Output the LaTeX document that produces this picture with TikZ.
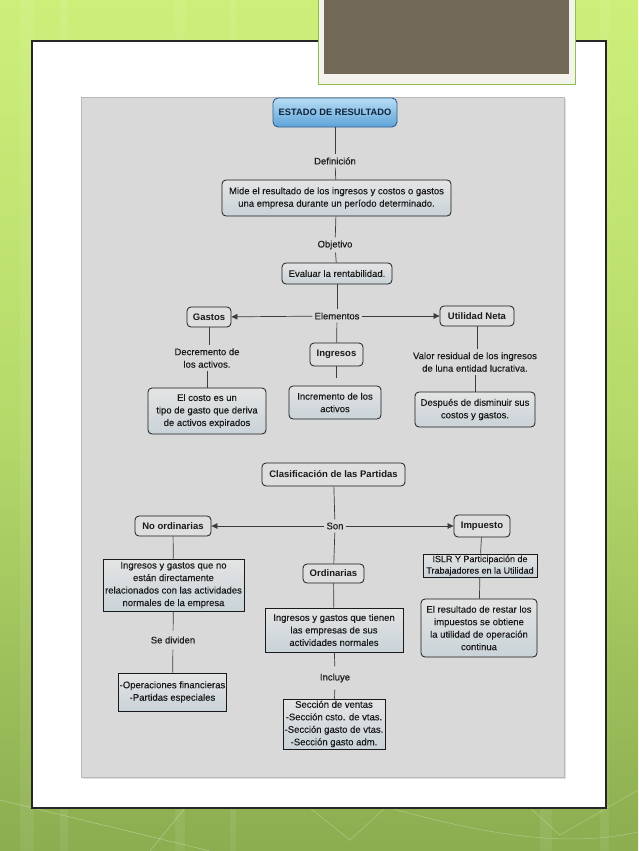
\documentclass[tikz,border=0pt]{standalone}
\usepackage{fontspec}
\setmainfont{Liberation Sans}
\newfontfamily\regfont{Liberation Sans}[FakeBold=0.25]
\usetikzlibrary{arrows.meta}
\definecolor{bgtop}{HTML}{CDEF7A}
\definecolor{bgmid}{HTML}{B5D96A}
\definecolor{bgbot}{HTML}{8CAD50}
\definecolor{framefill}{HTML}{F4F2EC}
\definecolor{framegreen}{HTML}{8CC04A}
\definecolor{photo}{HTML}{716858}
\definecolor{areagray}{HTML}{D9D9D9}
\definecolor{areaedge}{HTML}{B8B8B8}
\definecolor{ink}{HTML}{1A1A1A}
\definecolor{boxtop}{HTML}{E4E4E4}
\definecolor{boxbot}{HTML}{C9D3D8}
\definecolor{concfill}{HTML}{DEDEDE}
\definecolor{bluetop}{HTML}{B8DDF5}
\definecolor{bluebot}{HTML}{5EA3D8}
\definecolor{blueedge}{HTML}{2F5F88}
\definecolor{navy}{HTML}{10243A}
\begin{document}
\begin{tikzpicture}[x=1pt,y=-1pt,
  txt/.style={font=\regfont\fontsize{9.5}{12.5}\selectfont, text=ink, align=center},
  concept/.style={txt, font=\fontsize{9.5}{12.5}\selectfont\bfseries, draw=ink, line width=0.8pt,
     rounded corners=4pt, fill=concfill, inner sep=2pt},
  descbox/.style={txt, draw=ink, line width=0.8pt, rounded corners=4pt,
     top color=boxtop, bottom color=boxbot, inner sep=2pt},
  rectbox/.style={txt, draw=ink, line width=0.8pt,
     top color=boxtop, bottom color=boxbot, inner sep=1pt},
  lbl/.style={txt, inner xsep=2pt, inner ysep=3pt},
  link/.style={draw=ink!85, line width=0.7pt},
  arr/.style={link, -{Triangle[length=6pt,width=5.5pt]}}
]
\useasboundingbox (0,0) rectangle (638,851);
% background
\shade[top color=bgtop, bottom color=bgbot, middle color=bgmid] (0,0) rectangle (638,851);
\foreach \xx/\ww in {20/14, 60/8, 175/10, 230/6, 540/12, 600/9} {
  \fill[white, opacity=0.07] (\xx,0) rectangle (\xx+\ww,851);
}
\draw[white, opacity=0.35, line width=0.5pt] (0,800) -- (210,851);
\draw[white, opacity=0.35, line width=0.5pt] (150,851) -- (185,808);
\draw[white, opacity=0.3, line width=0.5pt] (310,808) -- (350,840) -- (385,808);
\draw[white, opacity=0.3, line width=0.5pt] (390,808) .. controls (470,830) and (560,850) .. (638,832);
\draw[white, opacity=0.3, line width=0.5pt] (530,808) -- (560,835) -- (638,790);
% panel
\draw[fill=white, draw=black!85, line width=1.2pt] (32,41) rectangle (606,808);
% photo frame
\draw[fill=framefill, draw=framegreen, line width=1pt] (318,-5) rectangle (575,84);
\fill[photo] (324,-5) rectangle (569,74);
% diagram area
\fill[black, opacity=0.12] (83,99) rectangle (566,779);
\draw[fill=areagray, draw=areaedge, line width=0.8pt] (81,97) rectangle (564,777);

% nodes
\node[txt, font=\fontsize{9.3}{12.5}\selectfont\bfseries, text=navy, draw=blueedge, line width=0.9pt,
  rounded corners=5pt, top color=bluetop, bottom color=bluebot,
  minimum width=124pt, minimum height=29pt, inner sep=1pt] (est) at (335,112.5) {ESTADO DE RESULTADO};
\node[lbl] (def) at (335,161) {Definición};
\node[descbox, minimum width=229pt, minimum height=36pt] (mide) at (336.5,198)
  {Mide el resultado de los ingresos y costos o gastos\\ una empresa durante un período determinado.};
\node[lbl] (obj) at (335,245) {Objetivo};
\node[descbox, minimum width=110pt, minimum height=21pt] (eval) at (337,273.5) {Evaluar la rentabilidad.};
\node[lbl] (elem) at (337,316) {Elementos};
\node[concept, minimum width=44pt, minimum height=20pt] (gastos) at (209,317) {Gastos};
\node[concept, minimum width=74pt, minimum height=20pt] (util) at (477,316) {Utilidad Neta};
\node[concept, minimum width=53pt, minimum height=23pt] (ingr) at (336.5,354.5) {Ingresos};
\node[lbl] (decr) at (207,358) {Decremento de\\ los activos.};
\node[descbox, minimum width=118pt, minimum height=46pt] (costo) at (207,411)
  {El costo es un\\ tipo de gasto que deriva\\ de activos expirados};
\node[descbox, minimum width=92pt, minimum height=33pt] (incr) at (335,402.5) {Incremento de los\\ activos};
\coordinate (incrtop) at (336.5,378);
\node[lbl] (valor) at (475,362) {Valor residual de los ingresos\\ de luna entidad lucrativa.};
\node[descbox, minimum width=120pt, minimum height=35pt] (desp) at (475,409.5)
  {Después de disminuir sus\\ costos y gastos.};

\node[concept, minimum width=143pt, minimum height=23pt] (clas) at (333.5,474.5) {Clasificación de las Partidas};
\node[lbl] (son) at (335,526) {Son};
\node[concept, minimum width=76pt, minimum height=20pt] (noord) at (173,526) {No ordinarias};
\node[concept, minimum width=56pt, minimum height=22pt] (imp) at (482,526) {Impuesto};
\node[rectbox, minimum width=141pt, minimum height=52pt, inner sep=0.5pt] (ingno) at (173.5,585)
  {Ingresos y gastos que no\\ están directamente\\ relacionados con las actividades\\ normales de la empresa};
\node[concept, minimum width=61pt, minimum height=19pt] (ord) at (333.5,573.5) {Ordinarias};
\node[rectbox, font=\regfont\fontsize{9}{11.5}\selectfont, minimum width=114pt, minimum height=23pt, inner sep=0.5pt] (islr) at (480,565.5)
  {ISLR Y Participación de\\ Trabajadores en la Utilidad};
\node[rectbox, minimum width=138pt, minimum height=44pt] (ingti) at (334,630)
  {Ingresos y gastos que tienen\\ las empresas de sus\\ actividades normales};
\node[descbox, minimum width=116pt, minimum height=58pt] (resul) at (479,628)
  {El resultado de restar los\\ impuestos se obtiene\\ la utilidad de operación\\ continua};
\node[lbl, inner ysep=6pt] (sediv) at (173,640) {Se dividen};
\node[rectbox, minimum width=108pt, minimum height=38pt, inner sep=0.5pt] (oper) at (172.5,692)
  {-Operaciones financieras\\ -Partidas especiales};
\node[lbl, inner ysep=7pt] (incl) at (335,678) {Incluye};
\node[rectbox, minimum width=102pt, minimum height=50pt, inner sep=0.5pt] (secc) at (334,724)
  {Sección de ventas\\ -Sección csto. de vtas.\\ -Sección gasto de vtas.\\ -Sección gasto adm.};

% connectors
\draw[link] (est) -- (def);
\draw[link] (def) -- (mide);
\draw[link] (mide) -- (obj);
\draw[link] (obj) -- (eval);
\draw[link] (eval) -- (elem);
\draw[arr] (elem) -- (gastos);
\draw[arr] (elem) -- (util);
\draw[link] (elem) -- (ingr);
\draw[link] (ingr) -- (incrtop);
\draw[link] (gastos) -- (gastos |- decr.north);
\draw[link] (decr) -- (decr |- costo.north);
\draw[link] (util) -- (util |- valor.north);
\draw[link] (valor) -- (valor |- desp.north);

\draw[link] (clas) -- (son);
\draw[arr] (son) -- (noord);
\draw[arr] (son) -- (imp);
\draw[link] (son) -- (ord);
\draw[link] (noord) -- (ingno);
\draw[link] (ord) -- (ingti);
\draw[link] (imp) -- (islr);
\draw[link] (islr) -- (resul);
\draw[link] (ingno) -- (sediv);
\draw[link] (sediv) -- (oper);
\draw[link] (ingti) -- (incl);
\draw[link] (incl) -- (secc);
\end{tikzpicture}
\end{document}
